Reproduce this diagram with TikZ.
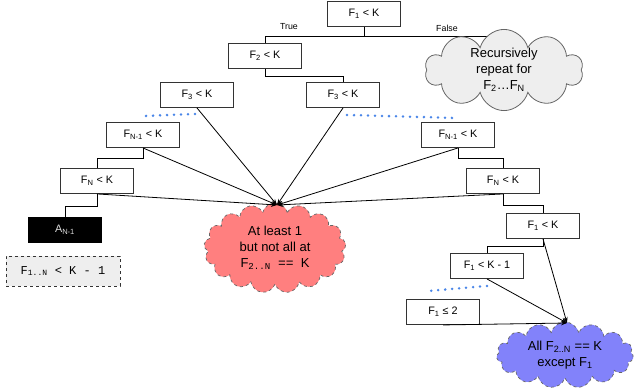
\documentclass[tikz,border=0pt]{standalone}
\usepackage{fontspec}
\setmainfont{Liberation Sans}
\newfontfamily\monofam{Liberation Mono}
\usetikzlibrary{shapes.symbols,arrows.meta,calc,backgrounds}

\definecolor{boxline}{HTML}{333333}
\definecolor{dotblue}{HTML}{4A86E8}
\definecolor{redcloud}{HTML}{FF7F7F}
\definecolor{bluecloud}{HTML}{8282FA}
\definecolor{graycloud}{HTML}{EEEEEE}
\definecolor{cloudline}{HTML}{666666}

\tikzset{
  testbox/.style={draw=boxline, line width=0.9pt, fill=white,
    minimum width=73pt, minimum height=25pt, inner sep=0pt,
    font=\fontsize{10.8}{12}\selectfont},
  link/.style={line width=0.8pt, draw=black},
  arrowlink/.style={line width=0.8pt, draw=black,
    -{Stealth[length=6pt,width=4.5pt]}},
  dotchain/.style={draw=dotblue, line width=2.8pt, line cap=round,
    dash pattern=on 0pt off 7pt},
  bubble/.style={cloud, cloud ignores aspect,
    align=center, inner sep=0pt, font=\fontsize{13}{16}\selectfont},
  edgelabel/.style={font=\fontsize{8.8}{10}\selectfont, inner sep=0pt}
}

\begin{document}
\begin{tikzpicture}[x=1pt,y=-1pt]
\useasboundingbox (0,0) rectangle (634,391);

% decision boxes
\node[testbox] (t1)  at (364,14)  {F\textsubscript{1} < K};
\node[testbox] (t2)  at (265,56)  {F\textsubscript{2} < K};
\node[testbox] (t3l) at (197,95)  {F\textsubscript{3} < K};
\node[testbox] (t3r) at (343,95)  {F\textsubscript{3} < K};
\node[testbox] (l1)  at (143,135) {F\textsubscript{N-1} < K};
\node[testbox] (l2)  at (97,181)  {F\textsubscript{N} < K};
\node[testbox, fill=black, draw=black, text={rgb,255:red,220;green,220;blue,220}]
  (a) at (65,230) {A\textsubscript{N-1}};
\node[draw=boxline, dashed, line width=0.9pt, fill=graycloud,
      minimum width=114pt, minimum height=30pt, inner sep=0pt,
      font=\monofam\fontsize{12}{14}\selectfont]
  (fb) at (63,271) {F\textsubscript{1..N} < K - 1};
\node[testbox] (r1)  at (458,135) {F\textsubscript{N-1} < K};
\node[testbox] (r2)  at (503,181) {F\textsubscript{N} < K};
\node[testbox] (r3)  at (543,226) {F\textsubscript{1} < K};
\node[testbox] (r4)  at (487,266) {F\textsubscript{1} < K - 1};
\node[testbox] (r5)  at (443,312) {F\textsubscript{1} ≤ 2};

% clouds
\node[bubble, cloud puffs=10, draw=cloudline, line width=0.8pt, fill=graycloud,
      minimum width=158pt, minimum height=64pt]
  (gc) at (504,70) {Recursively\\repeat for\\F\textsubscript{2}…F\textsubscript{N}};
\node[bubble, cloud puffs=17, draw=cloudline, dashed, line width=0.7pt, fill=redcloud,
      minimum width=142pt, minimum height=90pt]
  (rc) at (275,248) {At least 1\\but not all at\\F\textsubscript{\monofam 2..N}\ \ {\monofam ==}\ \ K};
\node[bubble, cloud puffs=15, draw=cloudline, dashed, line width=0.7pt, fill=bluecloud,
      minimum width=137pt, minimum height=66pt]
  (bc) at (565,355) {All F\textsubscript{2..N} == K\\except F\textsubscript{1}};

\coordinate (p) at (277,205);
\coordinate (q) at (567,323);

% tree links, kept behind the shapes
\begin{scope}[on background layer]
\draw[link] (t1.south) -- ++(0,9) -| (t2.north);
\draw[link] (t1.south) -- ++(0,9) -| (gc.north);
\draw[link] (t2.south) -- ++(0,7) -| (t3r.north);
\draw[link] (l1.south) -- ++(0,10) -| (l2.north);
\draw[link] (l2.south) -- ++(0,12) -| (a.north);
\draw[link] (r1.south) -- ++(0,10) -| (r2.north);
\draw[link] (r2.south) -- ++(0,11) -| (r3.north);
\draw[link] (r3.south) -- ++(0,7) -| (r4.north);
\end{scope}

\node[edgelabel] (lt) at (289,27) {True};
\node[edgelabel] (lf) at (447,28) {False};

% elided levels
\draw[dotchain] ([shift={(-2,6)}]t3l.south) -- ([shift={(0,-6)}]l1.north);
\draw[dotchain] ([shift={(4,7)}]t3r.south) -- ([shift={(0,-4)}]r1.north);
\draw[dotchain] ([shift={(0,7)}]r4.south) -- ([shift={(-16,-8)}]r5.north);

% outcome arrows
\foreach \n in {t3l,t3r,l1,l2,r1,r2}
  \draw[arrowlink] (\n.south) -- (p);
\foreach \n in {r3,r4,r5}
  \draw[arrowlink] (\n.south) -- (q);
\end{tikzpicture}
\end{document}
